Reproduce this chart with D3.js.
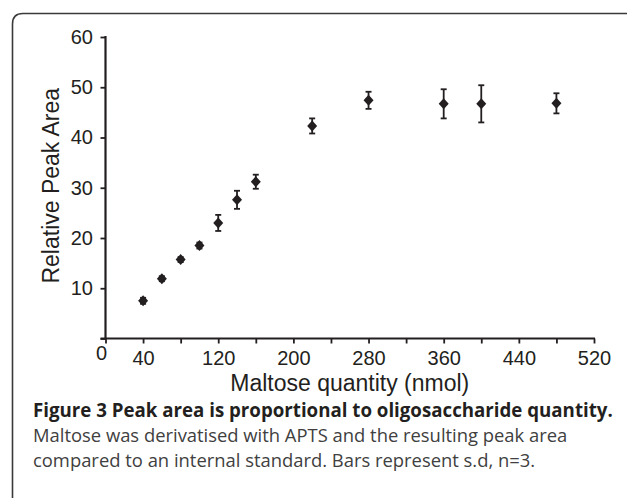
<!DOCTYPE html>
<html><head><meta charset="utf-8">
<script src="https://cdn.jsdelivr.net/npm/d3@7"></script>
<style>
html,body{margin:0;padding:0;background:#fff;}
svg{display:block;}
</style></head>
<body>
<svg id="c" width="627" height="498"></svg>
<script>
// Data
const quantity = [40, 60, 80, 100, 120, 140, 160, 220, 280, 360, 400, 480];
const peakArea = [7.5, 11.9, 15.7, 18.5, 23.0, 27.6, 31.2, 42.3, 47.4, 46.7, 46.7, 46.8];
const sdev     = [0.6, 0.5, 0.5, 0.6, 1.6, 1.8, 1.4, 1.5, 1.7, 2.9, 3.7, 2.0];
const xTickValues = [0, 40, 80, 120, 160, 200, 240, 280, 320, 360, 400, 440, 480, 520];
const xTickLabels = [40, 120, 200, 280, 360, 440, 520];
const yTickValues = [0, 10, 20, 30, 40, 50, 60];
const xTitle = "Maltose quantity (nmol)";
const yTitle = "Relative Peak Area";
const captionBold = "Figure 3 Peak area is proportional to oligosaccharide quantity.";
const captionLines = ["Maltose was derivatised with APTS and the resulting peak area",
                      "compared to an internal standard. Bars represent s.d, n=3."];

const svg = d3.select("#c");
const ink = "#231f20";
const chartFont = "'Liberation Sans', Arial, Helvetica, sans-serif";
const capFont = "'Open Sans', 'Noto Sans', sans-serif";

// frame
svg.append("path")
  .attr("d", "M12.5,500 L12.5,24 Q12.5,13.5 23,13.5 L630,13.5")
  .attr("fill", "none").attr("stroke", "#3a3a3a").attr("stroke-width", 1.6);

const x = d3.scaleLinear().domain([0, 520]).range([105.5, 594]);
const y = d3.scaleLinear().domain([0, 60]).range([338.5, 37]);

// x axis
const gx = svg.append("g").attr("transform", `translate(0,${y(0)})`)
  .call(d3.axisBottom(x).tickValues(xTickValues).tickSizeInner(5).tickSizeOuter(0)
        .tickFormat(d => xTickLabels.includes(d) ? d : ""));
gx.select(".domain").attr("stroke", ink).attr("stroke-width", 2.2)
  .attr("d", `M${x(0)-5},0H${x(520)+1}`);
gx.selectAll(".tick line").attr("stroke", ink).attr("stroke-width", 1.8);
gx.selectAll(".tick text").attr("fill", ink).attr("font-family", chartFont)
  .attr("font-size", 20).attr("dy", "0.71em").attr("y", 12);
// "0" label at the origin
svg.append("text").attr("x", x(0) - 4).attr("y", y(0) + 21)
  .attr("text-anchor", "middle").attr("font-family", chartFont).attr("font-size", 20)
  .attr("fill", ink).text(xTickValues[0]);

// y axis
const gy = svg.append("g").attr("transform", `translate(${x(0)},0)`)
  .call(d3.axisLeft(y).tickValues(yTickValues).tickSizeInner(5).tickSizeOuter(0)
        .tickFormat(d => d === 0 ? "" : d));
gy.select(".domain").attr("stroke", ink).attr("stroke-width", 2.2)
  .attr("d", `M0,${y(60)-1}V${y(0)}`);
gy.selectAll(".tick line").attr("stroke", ink).attr("stroke-width", 1.8);
gy.selectAll(".tick text").attr("fill", ink).attr("font-family", chartFont)
  .attr("font-size", 20).attr("x", -12.5);

// titles
svg.append("text").attr("x", (x(0) + x(520)) / 2).attr("y", 391)
  .attr("text-anchor", "middle").attr("font-family", chartFont).attr("font-size", 23)
  .attr("fill", ink).text(xTitle);
svg.append("text").attr("transform", `translate(59,${(y(0)+y(60))/2 - 2}) rotate(-90)`)
  .attr("text-anchor", "middle").attr("font-family", chartFont).attr("font-size", 23)
  .attr("fill", ink).text(yTitle);

// error bars
const data = quantity.map((q, i) => ({q, v: peakArea[i], s: sdev[i]}));
const eb = svg.append("g").attr("stroke", ink).attr("stroke-width", 1.8);
data.forEach(d => {
  const cx = x(d.q);
  eb.append("line").attr("x1", cx).attr("x2", cx).attr("y1", y(d.v + d.s)).attr("y2", y(d.v - d.s));
  eb.append("line").attr("x1", cx - 3).attr("x2", cx + 3).attr("y1", y(d.v + d.s)).attr("y2", y(d.v + d.s));
  eb.append("line").attr("x1", cx - 3).attr("x2", cx + 3).attr("y1", y(d.v - d.s)).attr("y2", y(d.v - d.s));
});

// diamond markers
svg.append("g").selectAll("path").data(data).join("path")
  .attr("d", d => { const cx = x(d.q), cy = y(d.v);
    return `M${cx},${cy-5.5}L${cx+5},${cy}L${cx},${cy+5.5}L${cx-5},${cy}Z`; })
  .attr("fill", ink);

// caption
svg.append("text").attr("x", 33).attr("y", 417).attr("font-family", capFont)
  .attr("font-weight", 700).attr("font-size", 18.7).attr("fill", "#231f20").text(captionBold);
captionLines.forEach((t, i) => {
  svg.append("text").attr("x", 33).attr("y", 442 + i * 24.5).attr("font-family", capFont)
    .attr("font-size", 18.4).attr("fill", "#404040").text(t);
});
</script>
</body></html>
